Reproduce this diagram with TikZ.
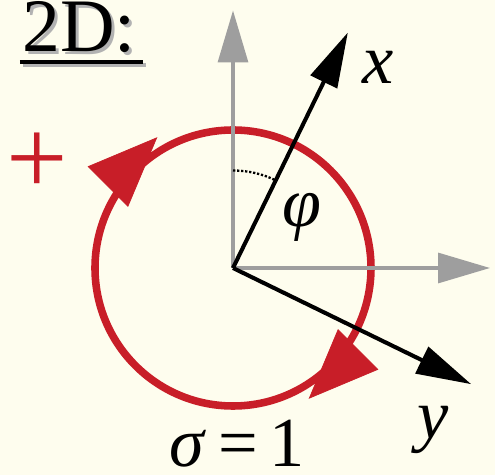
\documentclass[tikz,border=0pt]{standalone}
\usepackage{fontspec}
\setmainfont{Liberation Serif}
\usetikzlibrary{arrows.meta, positioning, calc, decorations.markings}
\definecolor{bgcream}{RGB}{254,253,238}
\definecolor{spinred}{RGB}{200,30,40}
\definecolor{axgray}{RGB}{158,158,158}

\begin{document}
\begin{tikzpicture}[
    refax/.style={draw=axgray, line width=1.8pt, -{Triangle[length=1.04cm, width=0.6cm, fill=axgray]}},
    bodyax/.style={draw=black, line width=2.3pt, -{Triangle[length=1.1cm, width=0.58cm]}},
    lbl/.style={font=\fontsize{40}{40}\selectfont, inner sep=0pt},
    spinloop/.style={draw=spinred, line width=4.3pt},
    spinhead/.style={decoration={markings,
      mark=at position #1 with {\pgftransformshift{\pgfpoint{0.78cm}{0.16cm}}\arrow[spinred]{Triangle[length=1.4cm, width=1.14cm]}}}},
]
%% background and frame
\useasboundingbox (-4.66,-4.14) rectangle (5.24,5.36);
\fill[bgcream] (-4.66,-4.14) rectangle (5.24,5.36);
%% title with shadow
\node[lbl, font=\fontsize{43}{43}\selectfont, text=black!30, anchor=base west] (titleshadow) at (-4.16,4.26) {2D:};
\draw[black!30, line width=2.8pt] (-4.20,4.06) -- (-1.74,4.06);
\node[lbl, font=\fontsize{43}{43}\selectfont, anchor=base west] (title) at (-4.22,4.32) {2D:};
\draw[line width=2.8pt] (-4.26,4.12) -- (-1.80,4.12);
%% sign of rotation
\node[lbl, font=\fontsize{62}{62}\selectfont, text=spinred] (plus) at (-3.92,2.08) {+};
%% reference frame
\coordinate (O) at (0,0);
\coordinate (Zup) at (0,5.15);
\coordinate (Zright) at (5.14,0);
%% rotated frame, phi = 26 deg
\coordinate (Xtip) at (64:5.24);
\coordinate (Ytip) at (-26:5.3);
%% rotation loop (clockwise), heads at 135 and -45 deg
\draw[spinloop] (O) circle[radius=2.76];
\path[spinhead=0.625, postaction={decorate}] (O) ++(0:2.76) arc[start angle=0, end angle=-360, radius=2.76];
\path[spinhead=0.125, postaction={decorate}] (O) ++(0:2.76) arc[start angle=0, end angle=-360, radius=2.76];
\draw[refax] (O) -- (Zup);
\draw[refax] (O) -- (Zright);
\draw[densely dotted, line width=1.3pt] (O) ++(90:1.95) arc[start angle=90, end angle=64, radius=1.95];
\draw[bodyax] (O) -- (Xtip);
\draw[bodyax] (O) -- (Ytip);
%% labels
\node[lbl] (xlbl) at (2.9,4.02) {\textit{x}};
\node[lbl] (ylbl) at (4.0,-3.24) {\textit{y}};
\node[lbl] (philbl) at (1.38,1.02) {\textit{φ}};
\node[lbl] (sigmalbl) at (0.08,-3.52) {\textit{σ}\,=\,1};
\end{tikzpicture}
\end{document}
